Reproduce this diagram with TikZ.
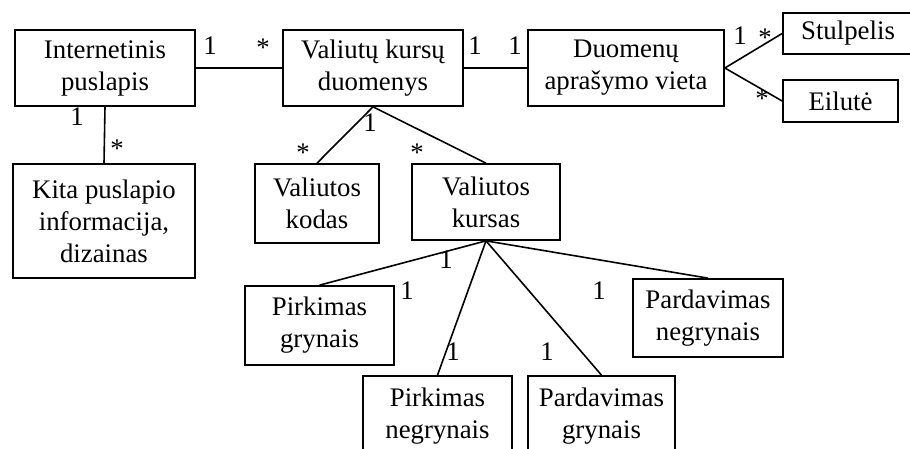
\documentclass[tikz,border=0pt]{standalone}
\usepackage{fontspec}
\setmainfont{Liberation Serif}
\begin{document}
\begin{tikzpicture}[x=1pt,y=-1pt,
  every node/.style={font=\fontsize{26.8}{32}\selectfont, inner sep=0pt},
  box/.style={draw, line width=1.7pt, rectangle, align=center},
  conn/.style={line width=1.6pt},
  mult/.style={anchor=base}]
\useasboundingbox (0,0) rectangle (910,449);
\clip (0,0) rectangle (910,449);

% classes
\node[box, minimum width=180, minimum height=76] (inet) at (105,68) {Internetinis\\puslapis};
\node[box, minimum width=180, minimum height=76] (vkd) at (373,68) {Valiutų kursų\\duomenys};
\node[box, minimum width=196, minimum height=76] (dav) at (626,68) {Duomenų\\aprašymo vieta};
\node[box, minimum width=130, minimum height=41] (stul) at (848,33.5) {Stulpelis};
\node[box, minimum width=115, minimum height=42] (eil) at (840.5,101) {Eilutė};
\node[box, minimum width=182, minimum height=114] (kita) at (104,221) {Kita puslapio\\informacija,\\dizainas};
\node[box, minimum width=124, minimum height=79] (vkod) at (317,203.5) {Valiutos\\kodas};
\node[box, minimum width=148, minimum height=76] (vkur) at (486,202) {Valiutos\\kursas};
\node[box, minimum width=149, minimum height=79] (pg) at (319.5,325.5) {Pirkimas\\grynais};
\node[box, minimum width=149, minimum height=80] (pn) at (437.5,416) {Pirkimas\\negrynais};
\node[box, minimum width=147, minimum height=80] (pdg) at (601.5,416) {Pardavimas\\grynais};
\node[box, minimum width=150, minimum height=78] (pdn) at (708,318) {Pardavimas\\negrynais};

% associations
\draw[conn] (inet.east) -- (vkd.west);
\draw[conn] (vkd.east) -- (dav.west);
\draw[conn] (dav.east) -- (stul.west);
\draw[conn] (dav.east) -- (eil.west);
\draw[conn] (inet.south) -- (kita.north);
\draw[conn] (vkd.south) -- (vkod.north);
\draw[conn] (vkd.south) -- (vkur.north);
\draw[conn] (vkur.south) -- (pg.north);
\draw[conn] (vkur.south) -- (pn.north);
\draw[conn] (vkur.south) -- (pdg.north);
\draw[conn] (vkur.south) -- (pdn.north);

% multiplicities
\node[mult] (m1) at (210,55) {1};
\node[mult] (m2) at (263,57) {*};
\node[mult] (m3) at (475,55) {1};
\node[mult] (m4) at (515,55) {1};
\node[mult] (m5) at (740,45) {1};
\node[mult] (m6) at (765,47) {*};
\node[mult] (m7) at (762,108) {*};
\node[mult] (m8) at (77,126) {1};
\node[mult] (m9) at (117,158) {*};
\node[mult] (m10) at (370,132) {1};
\node[mult] (m11) at (303,162) {*};
\node[mult] (m12) at (417,162) {*};
\node[mult] (m13) at (446,268) {1};
\node[mult] (m14) at (407,299) {1};
\node[mult] (m15) at (453,360) {1};
\node[mult] (m16) at (547,360) {1};
\node[mult] (m17) at (599,299) {1};
\end{tikzpicture}
\end{document}
